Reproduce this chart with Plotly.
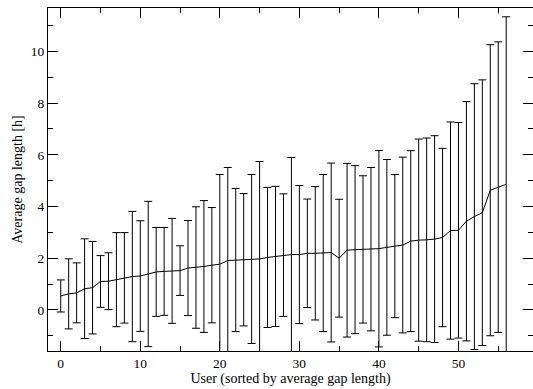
import plotly.graph_objects as go

users = list(range(57))
mean_gap = [0.54, 0.62, 0.66, 0.82, 0.86, 1.10, 1.11, 1.17, 1.24, 1.29,
            1.31, 1.39, 1.47, 1.49, 1.51, 1.52, 1.62, 1.64, 1.68, 1.73,
            1.77, 1.91, 1.93, 1.94, 1.97, 1.97, 2.03, 2.07, 2.12, 2.14,
            2.14, 2.19, 2.19, 2.20, 2.22, 2.00, 2.31, 2.33, 2.34, 2.35,
            2.37, 2.42, 2.47, 2.51, 2.66, 2.70, 2.71, 2.74, 2.80, 3.07,
            3.08, 3.43, 3.61, 3.76, 4.63, 4.75, 4.86]
sd_gap = [0.62, 1.355, 1.16, 1.93, 1.79, 1.00, 1.10, 1.82, 1.75, 2.52,
          2.14, 2.81, 1.72, 1.70, 2.03, 0.96, 1.84, 2.35, 2.55, 2.23,
          3.47, 3.60, 2.77, 2.56, 3.27, 3.77, 2.71, 2.71, 2.37, 3.76,
          2.67, 2.10, 2.58, 3.04, 3.46, 2.28, 3.36, 3.25, 2.85, 3.16,
          3.80, 3.40, 2.77, 3.40, 3.50, 3.91, 3.94, 4.00, 3.45, 4.20,
          4.17, 4.63, 5.14, 5.14, 5.63, 5.62, 6.48]

x_title = "User (sorted by average gap length)"
y_title = "Average gap length [h]"

font_family = "Liberation Serif, Times New Roman, serif"

fig = go.Figure()
fig.add_trace(go.Scatter(
    x=users, y=mean_gap, mode="lines",
    line=dict(color="black", width=1),
    error_y=dict(type="data", array=sd_gap, symmetric=True,
                 color="black", thickness=1, width=4),
    showlegend=False, hoverinfo="skip",
))

axis_common = dict(
    showgrid=False, zeroline=False, showline=True, linecolor="black",
    linewidth=1, mirror="ticks", ticks="inside", ticklen=10, tickwidth=1,
    tickcolor="black", tickfont=dict(family=font_family, size=13.5, color="black"),
)

fig.update_layout(
    width=533, height=389,
    margin=dict(l=48, r=0, t=8, b=38),
    paper_bgcolor="white", plot_bgcolor="white",
    font=dict(family=font_family, size=14, color="black"),
    xaxis=dict(range=[-1.6, 59.37], tick0=0, dtick=10,
               minor=dict(dtick=5, ticks="inside", ticklen=5, tickcolor="black"),
               title=dict(text=x_title, standoff=0,
                          font=dict(family=font_family, size=14)),
               **axis_common),
    yaxis=dict(range=[-1.59, 11.68], tick0=0, dtick=2,
               minor=dict(dtick=1, ticks="inside", ticklen=5, tickcolor="black"),
               title=dict(text=y_title, standoff=4,
                          font=dict(family=font_family, size=14)),
               **axis_common),
)

fig.write_html("out.html")
